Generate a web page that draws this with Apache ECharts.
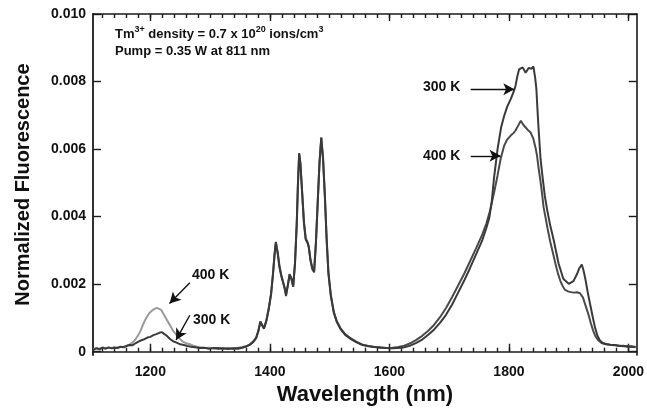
<!DOCTYPE html>
<html><head><meta charset="utf-8">
<script src="https://cdn.jsdelivr.net/npm/echarts@6/dist/echarts.min.js"></script>
<style>html,body{margin:0;padding:0;background:#fff}#c{width:647px;height:411px}</style>
</head><body><div id="c"></div>
<script>
// ---- data (wavelength nm, normalized fluorescence) ----
const wl300 = [1105,1110,1115,1120,1125,1130,1135,1140,1145,1150,1155,1160,1165,1170,1175,1180,1185,1190,1195,1200,1205,1210,1215,1219,1223,1227,1232,1238,1244,1250,1256,1262,1268,1275,1282,1290,1298,1306,1314,1322,1330,1338,1346,1354,1360,1366,1372,1377,1381,1384,1387,1390,1394,1398,1402,1405,1408,1410,1413,1416,1419,1422,1425,1427,1430,1433,1436,1439,1442,1445,1447,1449,1451,1454,1457,1460,1463,1465,1468,1471,1474,1477,1480,1483,1486,1489,1492,1495,1498,1502,1507,1512,1518,1526,1535,1545,1555,1565,1575,1585,1595,1605,1615,1625,1635,1645,1655,1665,1675,1685,1695,1705,1715,1725,1735,1745,1755,1762,1767,1771,1775,1781,1787,1792,1797,1803,1808,1811,1814,1817,1820,1823,1828,1833,1838,1841,1844,1846,1848,1850,1853,1856,1860,1864,1869,1875,1883,1891,1900,1908,1914,1918,1922,1925,1928,1932,1936,1940,1944,1948,1952,1957,1963,1970,1978,1985,1991,1998,2005,2012];
const v300 = [0.00006,0.00010,0.00007,0.00012,0.00009,0.00013,0.00010,0.00012,0.00011,0.00015,0.00013,0.00017,0.00020,0.00019,0.00025,0.00030,0.00034,0.00037,0.00042,0.00044,0.00049,0.00052,0.00056,0.00058,0.00053,0.00048,0.00039,0.00031,0.00027,0.00022,0.00020,0.00017,0.00015,0.00013,0.00011,0.00012,0.00009,0.00011,0.00009,0.00010,0.00008,0.00010,0.00009,0.00012,0.00015,0.00020,0.00028,0.00040,0.00062,0.00090,0.00078,0.00068,0.00090,0.00125,0.00170,0.00225,0.00290,0.00325,0.00292,0.00250,0.00225,0.00205,0.00185,0.00165,0.00195,0.00228,0.00215,0.00192,0.00260,0.00380,0.00500,0.00588,0.00560,0.00470,0.00380,0.00332,0.00322,0.00310,0.00270,0.00245,0.00235,0.00320,0.00440,0.00560,0.00635,0.00570,0.00460,0.00330,0.00230,0.00165,0.00115,0.00088,0.00068,0.00050,0.00038,0.00028,0.00020,0.00016,0.00014,0.00012,0.00011,0.00010,0.00011,0.00013,0.00018,0.00026,0.00036,0.00050,0.00066,0.00086,0.00110,0.00140,0.00175,0.00210,0.00248,0.00288,0.00328,0.00365,0.00395,0.00440,0.00513,0.00600,0.00665,0.00698,0.00725,0.00748,0.00770,0.00787,0.00815,0.00836,0.00840,0.00842,0.00826,0.00840,0.00838,0.00845,0.00810,0.00777,0.00710,0.00650,0.00570,0.00522,0.00462,0.00420,0.00375,0.00330,0.00262,0.00216,0.00201,0.00209,0.00230,0.00248,0.00258,0.00240,0.00215,0.00175,0.00140,0.00105,0.00072,0.00048,0.00034,0.00026,0.00023,0.00021,0.00020,0.00017,0.00018,0.00015,0.00016,0.00013];

const wl400 = [1105,1110,1115,1120,1125,1130,1135,1140,1145,1150,1155,1160,1165,1170,1175,1180,1184,1188,1193,1198,1203,1207,1211,1214,1218,1222,1227,1233,1238,1244,1250,1255,1260,1266,1272,1278,1283,1290,1298,1306,1314,1322,1330,1338,1346,1354,1360,1366,1372,1377,1381,1384,1387,1390,1394,1398,1402,1405,1408,1410,1413,1416,1419,1422,1425,1427,1430,1433,1436,1439,1442,1445,1447,1449,1451,1454,1457,1460,1463,1465,1468,1471,1474,1477,1480,1483,1486,1489,1492,1495,1498,1502,1507,1512,1518,1526,1535,1545,1555,1565,1575,1585,1595,1605,1615,1625,1635,1645,1655,1665,1675,1685,1695,1705,1715,1725,1735,1745,1755,1762,1768,1775,1781,1786,1792,1797,1803,1808,1811,1815,1820,1824,1828,1832,1836,1841,1845,1847,1850,1853,1856,1858,1861,1865,1869,1874,1878,1882,1886,1890,1894,1900,1908,1914,1919,1924,1928,1933,1937,1941,1945,1950,1955,1962,1970,1978,1985,1991,1998,2005,2012];
const v400 = [0.00008,0.00011,0.00009,0.00013,0.00010,0.00012,0.00011,0.00013,0.00012,0.00014,0.00015,0.00017,0.00021,0.00027,0.00036,0.00050,0.00064,0.00082,0.00100,0.00114,0.00122,0.00127,0.00130,0.00131,0.00124,0.00112,0.00096,0.00078,0.00062,0.00049,0.00037,0.00029,0.00025,0.00022,0.00018,0.00015,0.00013,0.00011,0.00012,0.00010,0.00011,0.00009,0.00010,0.00009,0.00011,0.00013,0.00016,0.00021,0.00030,0.00042,0.00064,0.00088,0.00080,0.00070,0.00092,0.00128,0.00172,0.00228,0.00292,0.00322,0.00295,0.00255,0.00228,0.00208,0.00188,0.00170,0.00198,0.00230,0.00218,0.00195,0.00262,0.00382,0.00498,0.00585,0.00558,0.00472,0.00385,0.00335,0.00325,0.00312,0.00272,0.00248,0.00238,0.00322,0.00442,0.00558,0.00632,0.00572,0.00465,0.00335,0.00235,0.00168,0.00118,0.00090,0.00070,0.00052,0.00040,0.00029,0.00021,0.00017,0.00014,0.00013,0.00011,0.00012,0.00014,0.00018,0.00025,0.00035,0.00047,0.00062,0.00080,0.00103,0.00130,0.00162,0.00196,0.00230,0.00268,0.00306,0.00345,0.00378,0.00415,0.00470,0.00522,0.00570,0.00610,0.00628,0.00640,0.00648,0.00655,0.00668,0.00684,0.00672,0.00664,0.00656,0.00650,0.00630,0.00600,0.00581,0.00540,0.00503,0.00460,0.00428,0.00400,0.00362,0.00327,0.00290,0.00260,0.00232,0.00210,0.00194,0.00183,0.00178,0.00175,0.00176,0.00173,0.00160,0.00138,0.00111,0.00085,0.00062,0.00045,0.00033,0.00026,0.00022,0.00020,0.00019,0.00018,0.00016,0.00017,0.00014,0.00015];

const xMajorTicks = [1200,1400,1600,1800,2000];
const yTicks = [0,0.002,0.004,0.006,0.008,0.010];
// annotation arrows: [fromX, fromY, toX, toY] in data units
const arrows = [
  [1736,0.00777,1809,0.00777],
  [1736,0.00580,1786,0.00580],
  [1266,0.00204,1232,0.00143],
  [1266,0.00108,1243,0.00035]
];

const xMinorTicks = [];
for (let t = 1120; t <= 2000; t += 20) xMinorTicks.push(t);

// 400 K trace drawn lighter in the short-wavelength band (as in the scan)
const LIGHT_END = 1300;
const data400 = wl400.map((w, i) => [w, v400[i]]);
const split = wl400.findIndex(w => w >= LIGHT_END);
const data400a = data400.slice(0, split + 1);
const data400b = data400.slice(split);

const FONT = 'Liberation Sans, Arial, Helvetica, sans-serif';
const X_MIN = 1104, X_MAX = 2014, Y_MIN = -0.0001, Y_MAX = 0.0100;
const axisCol = '#1a1a1a';

function xAx(pos, ticks, len, labels, extra) {
  return Object.assign({
    type: 'value', position: pos, min: X_MIN, max: X_MAX,
    axisLine: { show: labels !== null, lineStyle: { color: axisCol, width: 1.6 } },
    axisTick: { show: true, inside: true, length: len, customValues: ticks, lineStyle: { color: axisCol, width: 1.4 } },
    axisLabel: labels ? { show: true, customValues: labels, margin: 10, color: '#111', fontFamily: FONT, fontWeight: 'bold', fontSize: 14, formatter: v => String(v) } : { show: false },
    splitLine: { show: false }
  }, extra || {});
}

const chart = echarts.init(document.getElementById('c'), null, { renderer: 'canvas' });
chart.setOption({
  animation: false,
  backgroundColor: '#fff',
  grid: { left: 93, right: 7, top: 14, bottom: 53, containLabel: false },
  xAxis: [
    xAx('bottom', xMajorTicks, 8, xMajorTicks, {
      name: 'Wavelength (nm)', nameLocation: 'middle', nameGap: 22,
      nameTextStyle: { fontFamily: FONT, fontWeight: 'bold', fontSize: 22, color: '#111' }
    }),
    xAx('bottom', xMinorTicks, 4, null),
    xAx('top', xMajorTicks, 7, undefined),
    xAx('top', xMinorTicks, 4, null)
  ],
  yAxis: [
    {
      type: 'value', position: 'left', min: Y_MIN, max: Y_MAX,
      axisLine: { show: true, lineStyle: { color: axisCol, width: 1.8 } },
      axisTick: { show: true, inside: true, length: 8, customValues: yTicks, lineStyle: { color: axisCol, width: 1.4 } },
      axisLabel: { show: true, customValues: yTicks, margin: 7, color: '#111', fontFamily: FONT, fontWeight: 'bold', fontSize: 14,
        formatter: v => (Math.abs(v) < 1e-9 ? '0' : v.toFixed(3)) },
      splitLine: { show: false },
      name: 'Normalized Fluorescence', nameLocation: 'middle', nameGap: 60,
      nameTextStyle: { fontFamily: FONT, fontWeight: 'bold', fontSize: 20, color: '#111' }
    },
    {
      type: 'value', position: 'right', min: Y_MIN, max: Y_MAX,
      axisLine: { show: true, lineStyle: { color: axisCol, width: 1.6 } },
      axisTick: { show: true, inside: true, length: 8, customValues: yTicks, lineStyle: { color: axisCol, width: 1.4 } },
      axisLabel: { show: false }, splitLine: { show: false }
    }
  ],
  series: [
    {
      name: '400 K', type: 'line', showSymbol: false, symbol: 'none',
      data: data400a,
      lineStyle: { width: 2, color: '#9a9a9a' }
    },
    {
      name: '400 K', type: 'line', showSymbol: false, symbol: 'none',
      data: data400b,
      lineStyle: { width: 2, color: '#4a4a4a' }
    },
    {
      name: '300 K', type: 'line', showSymbol: false, symbol: 'none',
      data: wl300.map((w, i) => [w, v300[i]]),
      lineStyle: { width: 2, color: '#3a3a3a' },
      markLine: {
        silent: true, animation: false,
        symbol: ['none', 'arrow'], symbolSize: [9, 11],
        lineStyle: { color: '#111', width: 1.4, type: 'solid' },
        label: { show: false },
        data: arrows.map(a => [{ coord: [a[0], a[1]] }, { coord: [a[2], a[3]] }])
      }
    }
  ],
  graphic: [
    { type: 'text', left: 115, top: 25, style: {
      text: '{a|Tm}{s|3+}{a| density = 0.7 x 10}{s|20}{a| ions/cm}{s|3}',
      rich: {
        a: { fontFamily: FONT, fontWeight: 'bold', fontSize: 13, fill: '#111', lineHeight: 16, verticalAlign: 'bottom' },
        s: { fontFamily: FONT, fontWeight: 'bold', fontSize: 9, fill: '#111', lineHeight: 14, verticalAlign: 'top' }
      } } },
    { type: 'text', left: 115, top: 45, style: { text: 'Pump = 0.35 W at 811 nm', fontFamily: FONT, fontWeight: 'bold', fontSize: 13, fill: '#111' } },
    { type: 'text', left: 423, top: 80, style: { text: '300 K', fontFamily: FONT, fontWeight: 'bold', fontSize: 14, fill: '#111' } },
    { type: 'text', left: 423, top: 149, style: { text: '400 K', fontFamily: FONT, fontWeight: 'bold', fontSize: 14, fill: '#111' } },
    { type: 'text', left: 192, top: 268, style: { text: '400 K', fontFamily: FONT, fontWeight: 'bold', fontSize: 14, fill: '#111' } },
    { type: 'text', left: 193, top: 313, style: { text: '300 K', fontFamily: FONT, fontWeight: 'bold', fontSize: 14, fill: '#111' } }
  ]
});
</script>
</body></html>
